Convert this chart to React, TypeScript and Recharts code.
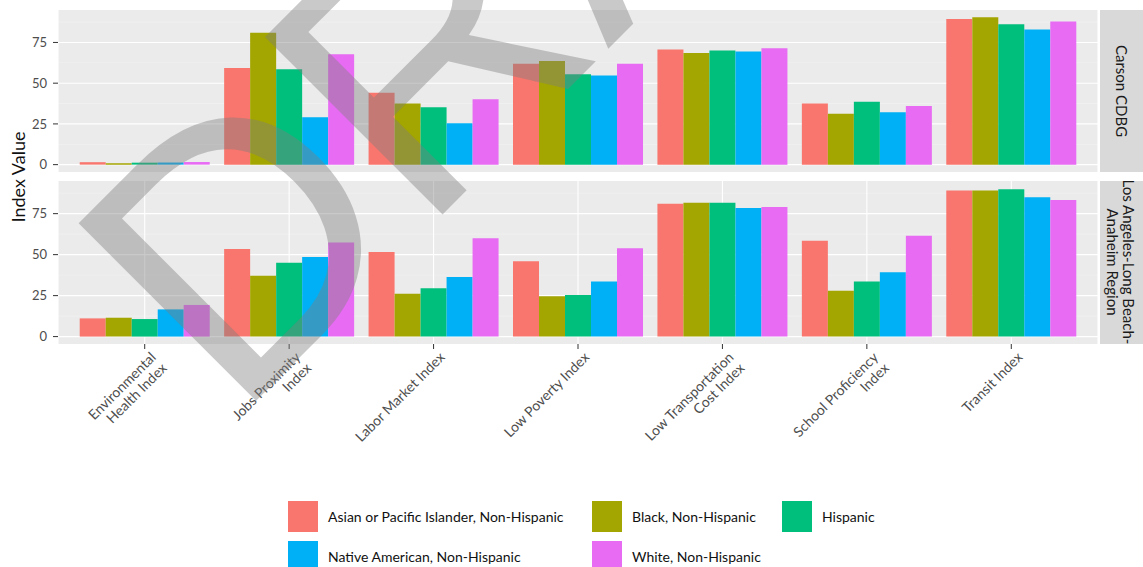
import React from 'react';
import { BarChart, Bar, XAxis, YAxis, CartesianGrid } from 'recharts';

const categories = [
  'Environmental Health Index',
  'Jobs Proximity Index',
  'Labor Market Index',
  'Low Poverty Index',
  'Low Transportation Cost Index',
  'School Proficiency Index',
  'Transit Index',
];
const categoryLabelLines = [
  ['Environmental', 'Health Index'],
  ['Jobs Proximity', 'Index'],
  ['Labor Market Index'],
  ['Low Poverty Index'],
  ['Low Transportation', 'Cost Index'],
  ['School Proficiency', 'Index'],
  ['Transit Index'],
];
const seriesNames = [
  'Asian or Pacific Islander, Non-Hispanic',
  'Black, Non-Hispanic',
  'Hispanic',
  'Native American, Non-Hispanic',
  'White, Non-Hispanic',
];
const seriesColors = ['#F8766D', '#A3A500', '#00BF7D', '#00B0F6', '#E76BF3'];

// Carson CDBG
const carsonAsian = [1.5, 59.3, 44.1, 62.0, 70.7, 37.6, 89.4];
const carsonBlack = [0.9, 80.9, 37.6, 63.6, 68.5, 31.3, 90.4];
const carsonHispanic = [1.2, 58.5, 35.2, 55.5, 70.1, 38.6, 86.2];
const carsonNative = [1.3, 29.1, 25.4, 54.7, 69.5, 32.1, 83.0];
const carsonWhite = [1.6, 67.7, 40.2, 62.0, 71.5, 36.0, 87.8];

// Los Angeles-Long Beach-Anaheim Region
const regionAsian = [11.1, 53.5, 51.6, 45.9, 81.1, 58.4, 89.1];
const regionBlack = [11.5, 37.1, 26.2, 24.6, 81.7, 27.9, 89.1];
const regionHispanic = [10.7, 45.1, 29.5, 25.4, 81.7, 33.6, 89.9];
const regionNative = [16.6, 48.6, 36.3, 33.6, 78.5, 39.3, 85.0];
const regionWhite = [19.3, 57.4, 60.0, 53.9, 79.1, 61.5, 83.4];

const majorTicks = [0, 25, 50, 75];
const minorTicks = [12.5, 37.5, 62.5, 87.5];
const yDomain = [-4.52, 94.92];

const facetLabels = ['Carson CDBG', ['Los Angeles-Long Beach-', 'Anaheim Region']];
const watermarkText = 'DRAFT';

const buildRows = (cols: number[][]) =>
  categories.map((c, i) => {
    const row: any = { cat: c };
    cols.forEach((col, k) => {
      row['s' + k] = col[i];
    });
    return row;
  });

const carsonData = buildRows([carsonAsian, carsonBlack, carsonHispanic, carsonNative, carsonWhite]);
const regionData = buildRows([regionAsian, regionBlack, regionHispanic, regionNative, regionWhite]);

const FONT = 'Lato, "Open Sans", sans-serif';

const XTick = (props: any) => {
  const { x, y, payload } = props;
  const idx = categories.indexOf(payload.value);
  const lines = categoryLabelLines[idx] || [payload.value];
  return (
    <g transform={`translate(${x + 5},${y})`}>
      <text transform="rotate(-45)" textAnchor="end" fontSize={14} fill="#4D4D4D" fontFamily={FONT}>
        {lines.map((l, i) => (
          <tspan key={i} x={0} dy={i === 0 ? '0.72em' : '1.1em'}>
            {l}
          </tspan>
        ))}
      </text>
    </g>
  );
};

const Panel = ({ data, showX, height, margin, xHeight }: any) => (
  <BarChart
    width={1143}
    height={height}
    data={data}
    margin={margin}
    barCategoryGap="5%"
    barGap={0}
  >
    <CartesianGrid
      fill="#EBEBEB"
      vertical={false}
      horizontalValues={minorTicks}
      stroke="#F4F4F4"
      strokeWidth={0.6}
    />
    <CartesianGrid
      horizontalValues={majorTicks}
      stroke="#FFFFFF"
      strokeWidth={1.1}
    />
    <XAxis
      dataKey="cat"
      type="category"
      padding={{ left: 14.5, right: 14.5 }}
      axisLine={false}
      tickLine={showX ? { stroke: '#333333' } : false}
      tickSize={5}
      tickMargin={2}
      height={xHeight}
      interval={0}
      tick={showX ? <XTick /> : false}
    />
    <YAxis
      width={58}
      domain={yDomain}
      ticks={majorTicks}
      allowDataOverflow
      axisLine={false}
      tickLine={{ stroke: '#333333' }}
      tickSize={5}
      tickMargin={6}
      tick={{ fontSize: 13, fill: '#4D4D4D', fontFamily: FONT }}
    />
    {seriesNames.map((n, k) => (
      <Bar key={n} dataKey={'s' + k} name={n} fill={seriesColors[k]} isAnimationActive={false} />
    ))}
  </BarChart>
);

export default function App() {
  return (
    <div
      style={{
        position: 'absolute',
        left: 0,
        top: 0,
        width: 1143,
        height: 567,
        overflow: 'hidden',
        background: '#FFFFFF',
        fontFamily: FONT,
      }}
    >
      <div style={{ position: 'absolute', left: 0, top: 0 }}>
        <Panel data={carsonData} showX={false} height={180} xHeight={0} margin={{ top: 10, right: 45, bottom: 8, left: 0 }} />
      </div>
      <div style={{ position: 'absolute', left: 0, top: 176 }}>
        <Panel data={regionData} showX={true} height={300} xHeight={100} margin={{ top: 5, right: 45, bottom: 32, left: 0 }} />
      </div>
      <svg
        width={1143}
        height={567}
        style={{ position: 'absolute', left: 0, top: 0, pointerEvents: 'none' }}
      >
        <text
          transform="translate(25,177) rotate(-90)"
          textAnchor="middle"
          fontSize={18}
          fill="#111111"
          fontFamily={FONT}
        >
          Index Value
        </text>
        <rect x={1100} y={10} width={60} height={162} fill="#D9D9D9" />
        <rect x={1100} y={181} width={60} height={163} fill="#D9D9D9" />
        <text
          transform="translate(1116,91) rotate(90)"
          textAnchor="middle"
          fontSize={15}
          fill="#1A1A1A"
          fontFamily={FONT}
        >
          {facetLabels[0] as string}
        </text>
        <text
          transform="translate(1123,262) rotate(90)"
          textAnchor="middle"
          fontSize={15}
          fill="#1A1A1A"
          fontFamily={FONT}
        >
          {(facetLabels[1] as string[]).map((l, i) => (
            <tspan key={i} x={0} dy={i === 0 ? 0 : 16}>
              {l}
            </tspan>
          ))}
        </text>
        <text
          transform="translate(235,422) rotate(-45)"
          fontSize={365}
          fill="#7F7F7F"
          fillOpacity={0.42}
          fontFamily='"Liberation Sans", Arial, sans-serif'
        >
          {watermarkText}
        </text>
      </svg>
      <div style={{ position: 'absolute', left: 288, top: 501, width: 700 }}>
        {[
          [0, 1, 2],
          [3, 4],
        ].map((row, r) => (
          <div key={r} style={{ position: 'absolute', top: r * 40, left: 0, height: 30 }}>
            {row.map((k, j) => {
              const lefts = [0, 304, 494];
              return (
                <div
                  key={k}
                  style={{ position: 'absolute', left: lefts[j], top: 0, display: 'flex', alignItems: 'center', whiteSpace: 'nowrap' }}
                >
                  <div style={{ width: 30, height: 31, background: seriesColors[k] }} />
                  <span style={{ marginLeft: 10, fontSize: 14, color: '#111111' }}>{seriesNames[k]}</span>
                </div>
              );
            })}
          </div>
        ))}
      </div>
    </div>
  );
}
